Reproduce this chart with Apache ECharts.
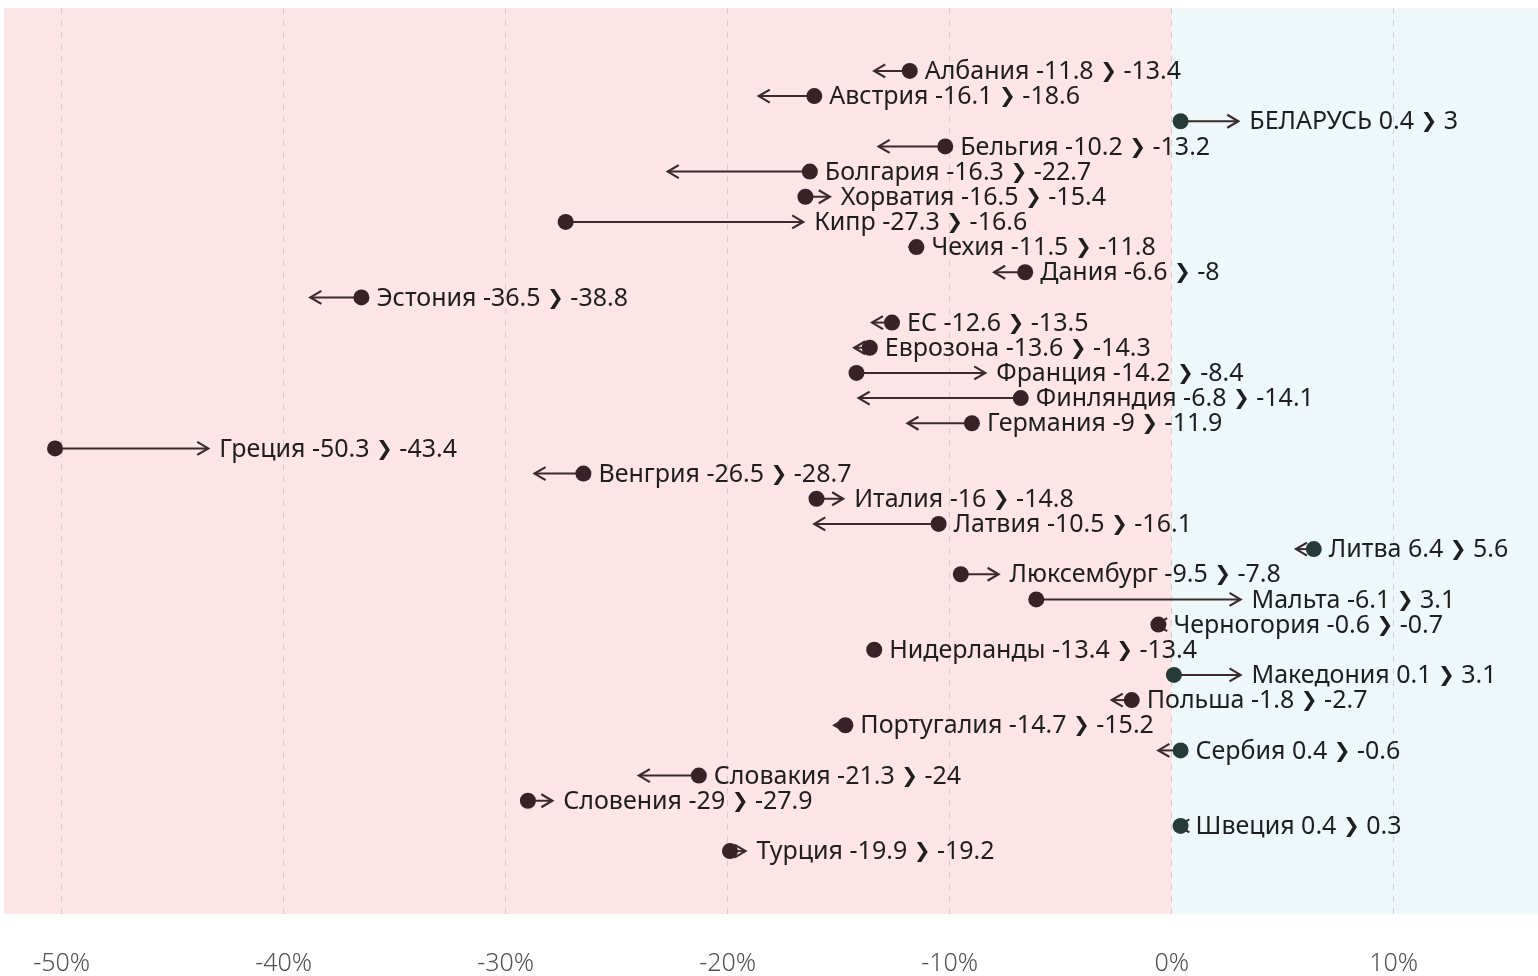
<!DOCTYPE html>
<html>
<head>
<meta charset="utf-8">
<script src="https://cdn.jsdelivr.net/npm/echarts@6/dist/echarts.min.js"></script>
<style>
html,body{margin:0;padding:0;background:#fff;}
#chart{width:1538px;height:976px;}
</style>
</head>
<body>
<div id="chart"></div>
<script>
const countries = ['Албания','Австрия','БЕЛАРУСЬ','Бельгия','Болгария','Хорватия','Кипр','Чехия','Дания','Эстония','ЕС','Еврозона','Франция','Финляндия','Германия','Греция','Венгрия','Италия','Латвия','Литва','Люксембург','Мальта','Черногория','Нидерланды','Македония','Польша','Португалия','Сербия','Словакия','Словения','Швеция','Турция'];
const fromValues = [-11.8,-16.1,0.4,-10.2,-16.3,-16.5,-27.3,-11.5,-6.6,-36.5,-12.6,-13.6,-14.2,-6.8,-9,-50.3,-26.5,-16,-10.5,6.4,-9.5,-6.1,-0.6,-13.4,0.1,-1.8,-14.7,0.4,-21.3,-29,0.4,-19.9];
const toValues = [-13.4,-18.6,3,-13.2,-22.7,-15.4,-16.6,-11.8,-8,-38.8,-13.5,-14.3,-8.4,-14.1,-11.9,-43.4,-28.7,-14.8,-16.1,5.6,-7.8,3.1,-0.7,-13.4,3.1,-2.7,-15.2,-0.6,-24,-27.9,0.3,-19.2];
const xTicks = [-50,-40,-30,-20,-10,0,10];

const FONT = "'Noto Sans', 'DejaVu Sans', sans-serif";
const data = countries.map((c, i) => [i, fromValues[i], toValues[i]]);

const chart = echarts.init(document.getElementById('chart'));
chart.setOption({
  animation: false,
  grid: {left: 4, right: 0, top: 8, bottom: 61},
  xAxis: {
    type: 'value', min: -52.6, max: 16.5, minInterval: 10, maxInterval: 10,
    axisLine: {show: false}, axisTick: {show: false}, splitLine: {show: false},
    axisLabel: {customValues: xTicks, formatter: v => v + '%', color: '#505050', fontSize: 25, fontFamily: FONT, fontWeight: 300, margin: 37}
  },
  yAxis: {type: 'value', min: -2.5, max: 33.5, inverse: true, show: false},
  series: [
    {
      type: 'line', data: [], z: 1, silent: true,
      markArea: {
        silent: true,
        data: [
          [{xAxis: -52.6, itemStyle: {color: '#fce4e7'}}, {xAxis: 0}],
          [{xAxis: 0, itemStyle: {color: '#eef8fa'}}, {xAxis: 16.5}]
        ]
      },
      markLine: {
        silent: true, symbol: 'none', label: {show: false},
        lineStyle: {color: '#d6cccd', type: [6, 6], width: 1},
        data: xTicks.map(v => ({xAxis: v}))
      }
    },
    {
      type: 'custom', z: 5, data: data,
      encode: {x: [1, 2], y: 0},
      renderItem: function (params, api) {
        const y = api.value(0), a = api.value(1), b = api.value(2);
        const i = params.dataIndex;
        const p1 = api.coord([a, y]);
        const p2 = api.coord([b, y]);
        const lineColor = '#3a2a2d';
        const dotColor = a >= 0 ? '#263a37' : '#3a2127';
        const children = [];
        if (a !== b) {
          const dir = b > a ? 1 : -1;
          children.push({type: 'line', shape: {x1: p1[0], y1: p1[1], x2: p2[0], y2: p2[1]}, style: {stroke: lineColor, lineWidth: 2}});
          children.push({type: 'polyline', shape: {points: [[p2[0] - dir * 11, p2[1] - 6.5], [p2[0], p2[1]], [p2[0] - dir * 11, p2[1] + 6.5]]}, style: {stroke: lineColor, lineWidth: 2.2, fill: null}});
        }
        children.push({type: 'circle', shape: {cx: p1[0], cy: p1[1], r: 8}, style: {fill: dotColor}});
        const labelX = (a >= b) ? p1[0] + 15 : p2[0] + 11;
        children.push({
          type: 'text',
          style: {
            x: labelX, y: p1[1] + 1,
            text: '{n|' + countries[i] + ' ' + a + ' }{c|❯}{n| ' + b + '}',
            verticalAlign: 'middle', align: 'left',
            rich: {
              n: {fontSize: 25, fontFamily: FONT, fill: '#1e1e1e', color: '#1e1e1e'},
              c: {fontSize: 20, fontFamily: 'DejaVu Sans', fontWeight: 'bold', fill: '#1e1e1e', color: '#1e1e1e'}
            }
          }
        });
        return {type: 'group', children: children};
      }
    }
  ]
});
</script>
</body>
</html>
